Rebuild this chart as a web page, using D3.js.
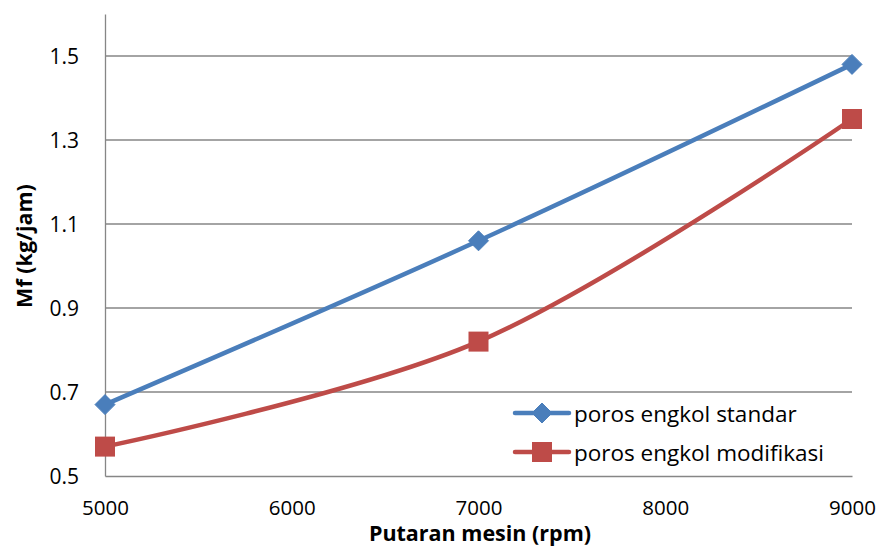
<!DOCTYPE html>
<html>
<head>
<meta charset="utf-8">
<script src="https://cdn.jsdelivr.net/npm/d3@7"></script>
<style>
  html, body { margin: 0; padding: 0; background: #fff; }
  svg text { font-family: "Open Sans", Lato, "Liberation Sans", sans-serif; fill: #000; }
</style>
</head>
<body>
<svg id="chart" width="881" height="548"></svg>
<script>
// Engine speed (rpm) and fuel consumption Mf (kg/jam)
const rpm = [5000, 7000, 9000];
const standar = [0.67, 1.06, 1.48];
const modifikasi = [0.57, 0.82, 1.35];
const xTicks = [5000, 6000, 7000, 8000, 9000];
const yTicks = [0.5, 0.7, 0.9, 1.1, 1.3, 1.5];
const seriesNames = ["poros engkol standar", "poros engkol modifikasi"];

const svg = d3.select("#chart");
const plotLeft = 105, plotRight = 852, plotTop = 14, plotBottom = 476;
const fontFamily = "'Open Sans', Lato, sans-serif";

const x = d3.scaleLinear().domain([5000, 9000]).range([plotLeft, plotRight]);
const y = d3.scaleLinear().domain([0.5, 1.6]).range([plotBottom, plotTop]);

const gridColor = "#868686";

// horizontal gridlines
svg.append("g").selectAll("line").data(yTicks.filter(d => d > 0.5)).join("line")
  .attr("x1", plotLeft).attr("x2", plotRight)
  .attr("y1", d => y(d)).attr("y2", d => y(d))
  .attr("stroke", gridColor).attr("stroke-width", 1.3);

// y axis
const yAxis = d3.axisLeft(y).tickValues(yTicks).tickSize(0).tickPadding(26)
  .tickFormat(d3.format(".1f"));
const gy = svg.append("g").attr("transform", `translate(${plotLeft},0)`).call(yAxis);
gy.select(".domain").attr("stroke", gridColor).attr("stroke-width", 1.3);
gy.selectAll("text").attr("font-size", 21).attr("dy", "0.36em")
  .style("font-family", fontFamily);

// x axis
const xAxis = d3.axisBottom(x).tickValues(xTicks).tickSize(0).tickPadding(24)
  .tickFormat(d3.format("d"));
const gx = svg.append("g").attr("transform", `translate(0,${plotBottom})`).call(xAxis);
gx.select(".domain").attr("stroke", gridColor).attr("stroke-width", 1.3);
gx.selectAll("text").attr("font-size", 20.5)
  .style("font-family", fontFamily);

// axis titles
svg.append("text").attr("x", 480).attr("y", 541).attr("text-anchor", "middle")
  .attr("font-size", 21.5).attr("font-weight", "bold").text("Putaran mesin (rpm)");
svg.append("text").attr("transform", "translate(32,246) rotate(-90)")
  .attr("text-anchor", "middle").attr("font-size", 21.5).attr("font-weight", "bold")
  .text("Mf (kg/jam)");

const colors = ["#4A7EBB", "#BE4B48"];
const line = d3.line().x(d => x(d[0])).y(d => y(d[1])).curve(d3.curveCatmullRom.alpha(0.5));

const series = [standar, modifikasi].map(vals => rpm.map((r, i) => [r, vals[i]]));

series.forEach((pts, k) => {
  svg.append("path").datum(pts).attr("d", line)
    .attr("fill", "none").attr("stroke", colors[k]).attr("stroke-width", 4.5)
    .attr("stroke-linecap", "round");
});

function diamond(g, cx, cy, r, color) {
  g.append("path")
    .attr("d", `M${cx},${cy - r}L${cx + r},${cy}L${cx},${cy + r}L${cx - r},${cy}Z`)
    .attr("fill", color).attr("stroke", color).attr("stroke-width", 1);
}
function square(g, cx, cy, s, color) {
  g.append("rect").attr("x", cx - s / 2).attr("y", cy - s / 2)
    .attr("width", s).attr("height", s).attr("fill", color);
}

const markers = svg.append("g");
series[0].forEach(d => diamond(markers, x(d[0]), y(d[1]), 10, colors[0]));
series[1].forEach(d => square(markers, x(d[0]), y(d[1]), 20, colors[1]));

// legend
const legend = svg.append("g");
const legendY = [413, 452];
seriesNames.forEach((name, k) => {
  const ly = legendY[k];
  legend.append("line").attr("x1", 515).attr("x2", 569).attr("y1", ly).attr("y2", ly)
    .attr("stroke", colors[k]).attr("stroke-width", 4.5).attr("stroke-linecap", "round");
  if (k === 0) diamond(legend, 542, ly, 10, colors[0]);
  else square(legend, 542, ly, 20, colors[1]);
  legend.append("text").attr("x", 574).attr("y", ly + 9)
    .attr("font-size", 22.5).text(name);
});
</script>
</body>
</html>
